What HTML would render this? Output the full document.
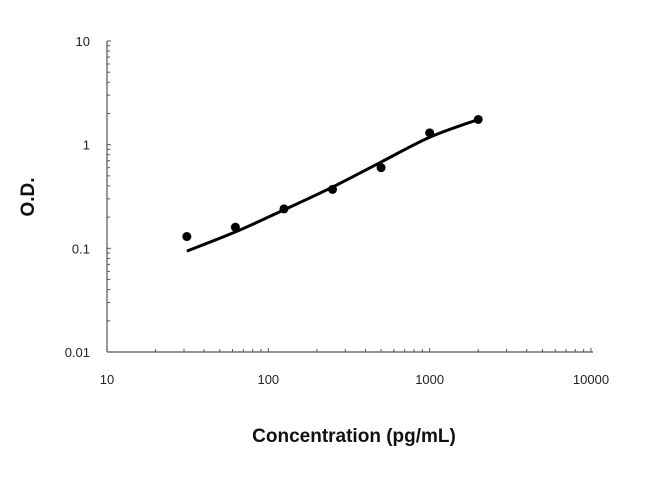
<!DOCTYPE html>
<html><head><meta charset="utf-8"><style>
body{margin:0;background:#fff;}
svg{display:block;font-family:"Liberation Sans",Arial,sans-serif;}
</style></head><body>
<svg id="chart" width="650" height="494"></svg>
<script>
const conc=[31.25,62.5,125,250,500,1000,2000];
const od=[0.13,0.16,0.24,0.37,0.6,1.3,1.75];
const fitX=[31.25,62.5,125,250,500,1000,2000];
const fitY=[0.094,0.144,0.235,0.39,0.68,1.18,1.75];
const xTicks=[10,100,1000,10000];
const xTickLabels=["10","100","1000","10000"];
const yTicks=[0.01,0.1,1,10];
const yTickLabels=["0.01","0.1","1","10"];
const NS="http://www.w3.org/2000/svg";
const svg=document.getElementById('chart');
const X0=107,X1=591,Y0=352,Y1=41;
function sx(v){return X0+(Math.log10(v)-1)/3*(X1-X0);}
function sy(v){return Y0-(Math.log10(v)+2)/3*(Y0-Y1);}
function mk(t,a){const e=document.createElementNS(NS,t);for(const k in a)e.setAttribute(k,a[k]);svg.appendChild(e);return e;}
let e;
e=mk('line',{x1:X0,y1:Y0,x2:X1+2,y2:Y0,stroke:'#555','stroke-width':1.2});


e=mk('line',{x1:X0,y1:Y1,x2:X0,y2:Y0,stroke:'#555','stroke-width':1.2});


for(let d=0;d<3;d++){for(let m=1;m<=10;m++){const v=Math.pow(10,d+1)*m;if(m==1&&d>0)continue;
 e=mk('line',{x1:sx(v),y1:Y0,x2:sx(v),y2:Y0-(m==1||m==10?4:3),stroke:'#555','stroke-width':1});
 
 
 const w=Math.pow(10,d-2)*m;
 e=mk('line',{x1:X0,y1:sy(w),x2:X0+(m==1||m==10?4:3),y2:sy(w),stroke:'#555','stroke-width':1});
 
 }}
xTicks.forEach((v,i)=>{e=mk('text',{x:sx(v),y:Y0+32,'text-anchor':'middle','font-size':13,fill:'#222'});e.textContent=xTickLabels[i];
 
 });
yTicks.forEach((v,i)=>{e=mk('text',{x:X0-17,y:sy(v)+5,'text-anchor':'end','font-size':13,fill:'#222'});e.textContent=yTickLabels[i];
 
 });
const P=fitX.map((v,i)=>[sx(v),sy(fitY[i])]);
let d='M'+P[0][0]+','+P[0][1];
for(let i=0;i<P.length-1;i++){const p0=P[Math.max(0,i-1)],p1=P[i],p2=P[i+1],p3=P[Math.min(P.length-1,i+2)];
 d+=' C'+(p1[0]+(p2[0]-p0[0])/6)+','+(p1[1]+(p2[1]-p0[1])/6)+' '+(p2[0]-(p3[0]-p1[0])/6)+','+(p2[1]-(p3[1]-p1[1])/6)+' '+p2[0]+','+p2[1];}
e=mk('path',{d:d,fill:'none',stroke:'#000','stroke-width':3});


conc.forEach((c,i)=>{e=mk('circle',{cx:sx(c),cy:sy(od[i]),r:4.5,fill:'#000'});
 
 });
e=mk('text',{x:354,y:442,'text-anchor':'middle','font-size':19,'font-weight':'bold',fill:'#111'});e.textContent='Concentration (pg/mL)';


e=mk('text',{x:34,y:197,'text-anchor':'middle','font-size':19,'font-weight':'bold',fill:'#111',transform:'rotate(-90 34 197)'});e.textContent='O.D.';


</script>
</body></html>
